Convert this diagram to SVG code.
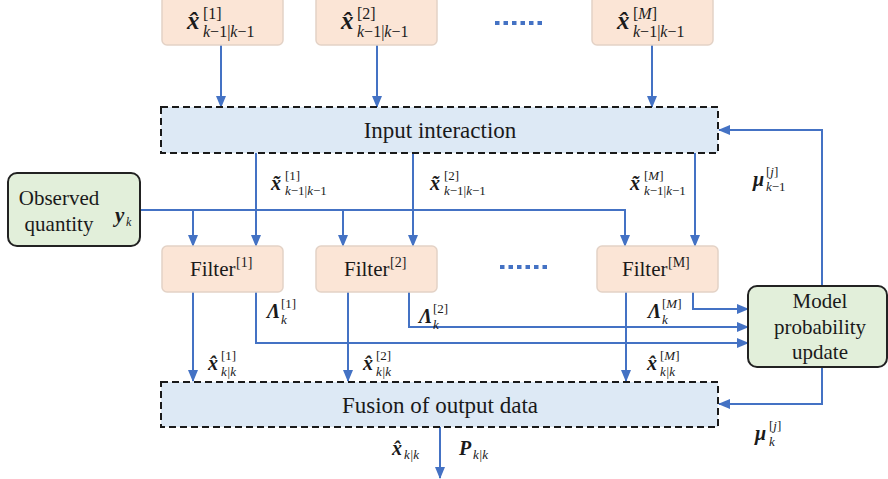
<svg xmlns="http://www.w3.org/2000/svg" width="888" height="479" viewBox="0 0 888 479">
<defs>
<marker id="ah" markerWidth="12" markerHeight="10" refX="11" refY="5" orient="auto" markerUnits="userSpaceOnUse">
<path d="M0,0 L12,5 L0,10 Z" fill="#4472c4"/>
</marker>
</defs>

<g id="connectors" stroke="#4472c4" stroke-width="2" fill="none" marker-end="url(#ah)">
<line x1="221" y1="45" x2="221" y2="107"/>
<line x1="377" y1="45" x2="377" y2="107"/>
<line x1="652" y1="45" x2="652" y2="107"/>
<line x1="256" y1="153" x2="256" y2="246"/>
<line x1="413" y1="153" x2="413" y2="246"/>
<line x1="695" y1="153" x2="695" y2="246"/>
<polyline points="140,210 625,210 625,246"/>
<line x1="193" y1="210" x2="193" y2="246"/>
<line x1="343" y1="210" x2="343" y2="246"/>
<line x1="193" y1="292" x2="193" y2="381"/>
<line x1="348" y1="292" x2="348" y2="381"/>
<line x1="626" y1="292" x2="626" y2="381"/>
<polyline points="256,292 256,343 748,343"/>
<polyline points="409,292 409,327 748,327"/>
<polyline points="693,292 693,309 748,309"/>
<polyline points="822,286 822,130 719,130"/>
<polyline points="822,367 822,404 719,404"/>
<line x1="440" y1="427" x2="440" y2="478"/>
</g>

<g id="prev1">
<rect x="162" y="-4" width="121" height="49" rx="5" fill="#fbe5d6" stroke="#e3d2c6" stroke-width="1.5"/>
<text font-family="Times New Roman, Liberation Serif, serif" font-weight="bold" font-style="italic" x="187" y="29" font-size="25" fill="#1a1a1a">x&#770;</text>
<text font-family="Times New Roman, Liberation Serif, serif" x="203" y="19" font-size="16" fill="#1a1a1a">[1]</text>
<text font-family="Times New Roman, Liberation Serif, serif" x="203" y="37" font-size="16" fill="#1a1a1a"><tspan font-style="italic">k</tspan>−1|<tspan font-style="italic">k</tspan>−1</text>
</g>
<g id="prev2">
<rect x="316" y="-4" width="121" height="49" rx="5" fill="#fbe5d6" stroke="#e3d2c6" stroke-width="1.5"/>
<text font-family="Times New Roman, Liberation Serif, serif" font-weight="bold" font-style="italic" x="341" y="29" font-size="25" fill="#1a1a1a">x&#770;</text>
<text font-family="Times New Roman, Liberation Serif, serif" x="357" y="19" font-size="16" fill="#1a1a1a">[2]</text>
<text font-family="Times New Roman, Liberation Serif, serif" x="357" y="37" font-size="16" fill="#1a1a1a"><tspan font-style="italic">k</tspan>−1|<tspan font-style="italic">k</tspan>−1</text>
</g>
<g id="dotsTop"><line x1="495" y1="23" x2="545" y2="23" stroke="#4472c4" stroke-width="4" stroke-dasharray="4.5 4"/></g>
<g id="prevM">
<rect x="592" y="-4" width="121" height="49" rx="5" fill="#fbe5d6" stroke="#e3d2c6" stroke-width="1.5"/>
<text font-family="Times New Roman, Liberation Serif, serif" font-weight="bold" font-style="italic" x="617" y="29" font-size="25" fill="#1a1a1a">x&#770;</text>
<text font-family="Times New Roman, Liberation Serif, serif" x="633" y="19" font-size="16" fill="#1a1a1a">[<tspan font-style="italic">M</tspan>]</text>
<text font-family="Times New Roman, Liberation Serif, serif" x="633" y="37" font-size="16" fill="#1a1a1a"><tspan font-style="italic">k</tspan>−1|<tspan font-style="italic">k</tspan>−1</text>
</g>

<g id="input">
<rect x="161" y="107" width="557" height="46" fill="#dde9f5" stroke="#1a1a1a" stroke-width="2" stroke-dasharray="7 4"/>
<text font-family="Times New Roman, Liberation Serif, serif" x="440" y="138" font-size="23" text-anchor="middle" fill="#1a1a1a">Input interaction</text>
</g>

<g id="observed">
<rect x="8" y="173" width="132" height="73" rx="9" fill="#e2efda" stroke="#222" stroke-width="2"/>
<text font-family="Times New Roman, Liberation Serif, serif" x="59" y="205" font-size="21" text-anchor="middle" fill="#1a1a1a">Observed</text>
<text font-family="Times New Roman, Liberation Serif, serif" x="59" y="231" font-size="21" text-anchor="middle" fill="#1a1a1a">quantity</text>
<text font-family="Times New Roman, Liberation Serif, serif" font-weight="bold" font-style="italic" x="115" y="222" font-size="21" fill="#1a1a1a">y</text>
<text font-family="Times New Roman, Liberation Serif, serif" font-style="italic" x="126" y="226" font-size="12" fill="#1a1a1a">k</text>
</g>

<g id="filter1">
<rect x="162" y="246" width="121" height="46" rx="5" fill="#fbe5d6" stroke="#e3d2c6" stroke-width="1.5"/>
<text font-family="Times New Roman, Liberation Serif, serif" x="190" y="276" font-size="21" fill="#1a1a1a">Filter</text>
<text font-family="Times New Roman, Liberation Serif, serif" x="236" y="267" font-size="14" fill="#1a1a1a">[1]</text>
</g>
<g id="filter2">
<rect x="316" y="246" width="121" height="46" rx="5" fill="#fbe5d6" stroke="#e3d2c6" stroke-width="1.5"/>
<text font-family="Times New Roman, Liberation Serif, serif" x="344" y="276" font-size="21" fill="#1a1a1a">Filter</text>
<text font-family="Times New Roman, Liberation Serif, serif" x="390" y="267" font-size="14" fill="#1a1a1a">[2]</text>
</g>
<g id="dotsMid"><line x1="500" y1="267" x2="550" y2="267" stroke="#4472c4" stroke-width="4" stroke-dasharray="4.5 4"/></g>
<g id="filterM">
<rect x="597" y="246" width="121" height="46" rx="5" fill="#fbe5d6" stroke="#e3d2c6" stroke-width="1.5"/>
<text font-family="Times New Roman, Liberation Serif, serif" x="622" y="276" font-size="21" fill="#1a1a1a">Filter</text>
<text font-family="Times New Roman, Liberation Serif, serif" x="668" y="267" font-size="14" fill="#1a1a1a">[M]</text>
</g>

<g id="model">
<rect x="748" y="286" width="139" height="81" rx="9" fill="#e2efda" stroke="#222" stroke-width="2"/>
<text font-family="Times New Roman, Liberation Serif, serif" x="820" y="308" font-size="21" text-anchor="middle" fill="#1a1a1a">Model</text>
<text font-family="Times New Roman, Liberation Serif, serif" x="820" y="334" font-size="21" text-anchor="middle" fill="#1a1a1a">probability</text>
<text font-family="Times New Roman, Liberation Serif, serif" x="820" y="359" font-size="21" text-anchor="middle" fill="#1a1a1a">update</text>
</g>

<g id="fusion">
<rect x="161" y="382" width="557" height="45" fill="#dde9f5" stroke="#1a1a1a" stroke-width="2" stroke-dasharray="7 4"/>
<text font-family="Times New Roman, Liberation Serif, serif" x="440" y="413" font-size="23" text-anchor="middle" fill="#1a1a1a">Fusion of output data</text>
</g>

<g id="labels" fill="#1a1a1a">
<text font-family="Times New Roman, Liberation Serif, serif" font-weight="bold" font-style="italic" x="271" y="190" font-size="20">x&#771;</text>
<text font-family="Times New Roman, Liberation Serif, serif" x="285" y="180" font-size="13">[1]</text>
<text font-family="Times New Roman, Liberation Serif, serif" x="285" y="195" font-size="13"><tspan font-style="italic">k</tspan>−1|<tspan font-style="italic">k</tspan>−1</text>

<text font-family="Times New Roman, Liberation Serif, serif" font-weight="bold" font-style="italic" x="430" y="190" font-size="20">x&#771;</text>
<text font-family="Times New Roman, Liberation Serif, serif" x="444" y="180" font-size="13">[2]</text>
<text font-family="Times New Roman, Liberation Serif, serif" x="444" y="195" font-size="13"><tspan font-style="italic">k</tspan>−1|<tspan font-style="italic">k</tspan>−1</text>

<text font-family="Times New Roman, Liberation Serif, serif" font-weight="bold" font-style="italic" x="630" y="190" font-size="20">x&#771;</text>
<text font-family="Times New Roman, Liberation Serif, serif" x="644" y="180" font-size="13">[<tspan font-style="italic">M</tspan>]</text>
<text font-family="Times New Roman, Liberation Serif, serif" x="644" y="195" font-size="13"><tspan font-style="italic">k</tspan>−1|<tspan font-style="italic">k</tspan>−1</text>

<text font-family="Times New Roman, Liberation Serif, serif" font-weight="bold" font-style="italic" x="753" y="186" font-size="20">μ</text>
<text font-family="Times New Roman, Liberation Serif, serif" x="766" y="176" font-size="13">[<tspan font-style="italic">j</tspan>]</text>
<text font-family="Times New Roman, Liberation Serif, serif" x="766" y="191" font-size="13"><tspan font-style="italic">k</tspan>−1</text>

<text font-family="Times New Roman, Liberation Serif, serif" font-weight="bold" font-style="italic" x="267" y="318" font-size="20">Λ</text>
<text font-family="Times New Roman, Liberation Serif, serif" x="281" y="308" font-size="13">[1]</text>
<text font-family="Times New Roman, Liberation Serif, serif" font-style="italic" x="281" y="324" font-size="13">k</text>

<text font-family="Times New Roman, Liberation Serif, serif" font-weight="bold" font-style="italic" x="419" y="323" font-size="20">Λ</text>
<text font-family="Times New Roman, Liberation Serif, serif" x="433" y="313" font-size="13">[2]</text>
<text font-family="Times New Roman, Liberation Serif, serif" font-style="italic" x="433" y="329" font-size="13">k</text>

<text font-family="Times New Roman, Liberation Serif, serif" font-weight="bold" font-style="italic" x="648" y="318" font-size="20">Λ</text>
<text font-family="Times New Roman, Liberation Serif, serif" x="662" y="308" font-size="13">[<tspan font-style="italic">M</tspan>]</text>
<text font-family="Times New Roman, Liberation Serif, serif" font-style="italic" x="662" y="324" font-size="13">k</text>

<text font-family="Times New Roman, Liberation Serif, serif" font-weight="bold" font-style="italic" x="208" y="370" font-size="20">x&#770;</text>
<text font-family="Times New Roman, Liberation Serif, serif" x="221" y="360" font-size="13">[1]</text>
<text font-family="Times New Roman, Liberation Serif, serif" font-style="italic" x="221" y="376" font-size="13">k|k</text>

<text font-family="Times New Roman, Liberation Serif, serif" font-weight="bold" font-style="italic" x="363" y="370" font-size="20">x&#770;</text>
<text font-family="Times New Roman, Liberation Serif, serif" x="376" y="360" font-size="13">[2]</text>
<text font-family="Times New Roman, Liberation Serif, serif" font-style="italic" x="376" y="376" font-size="13">k|k</text>

<text font-family="Times New Roman, Liberation Serif, serif" font-weight="bold" font-style="italic" x="647" y="370" font-size="20">x&#770;</text>
<text font-family="Times New Roman, Liberation Serif, serif" x="660" y="360" font-size="13">[<tspan font-style="italic">M</tspan>]</text>
<text font-family="Times New Roman, Liberation Serif, serif" font-style="italic" x="660" y="376" font-size="13">k|k</text>

<text font-family="Times New Roman, Liberation Serif, serif" font-weight="bold" font-style="italic" x="755" y="440" font-size="20">μ</text>
<text font-family="Times New Roman, Liberation Serif, serif" x="769" y="430" font-size="13">[<tspan font-style="italic">j</tspan>]</text>
<text font-family="Times New Roman, Liberation Serif, serif" font-style="italic" x="769" y="446" font-size="13">k</text>

<text font-family="Times New Roman, Liberation Serif, serif" font-weight="bold" font-style="italic" x="392" y="455" font-size="20">x&#770;</text>
<text font-family="Times New Roman, Liberation Serif, serif" font-style="italic" x="404" y="459" font-size="13">k|k</text>

<text font-family="Times New Roman, Liberation Serif, serif" font-weight="bold" font-style="italic" x="459" y="455" font-size="20">P</text>
<text font-family="Times New Roman, Liberation Serif, serif" font-style="italic" x="473" y="459" font-size="13">k|k</text>
</g>
</svg>
